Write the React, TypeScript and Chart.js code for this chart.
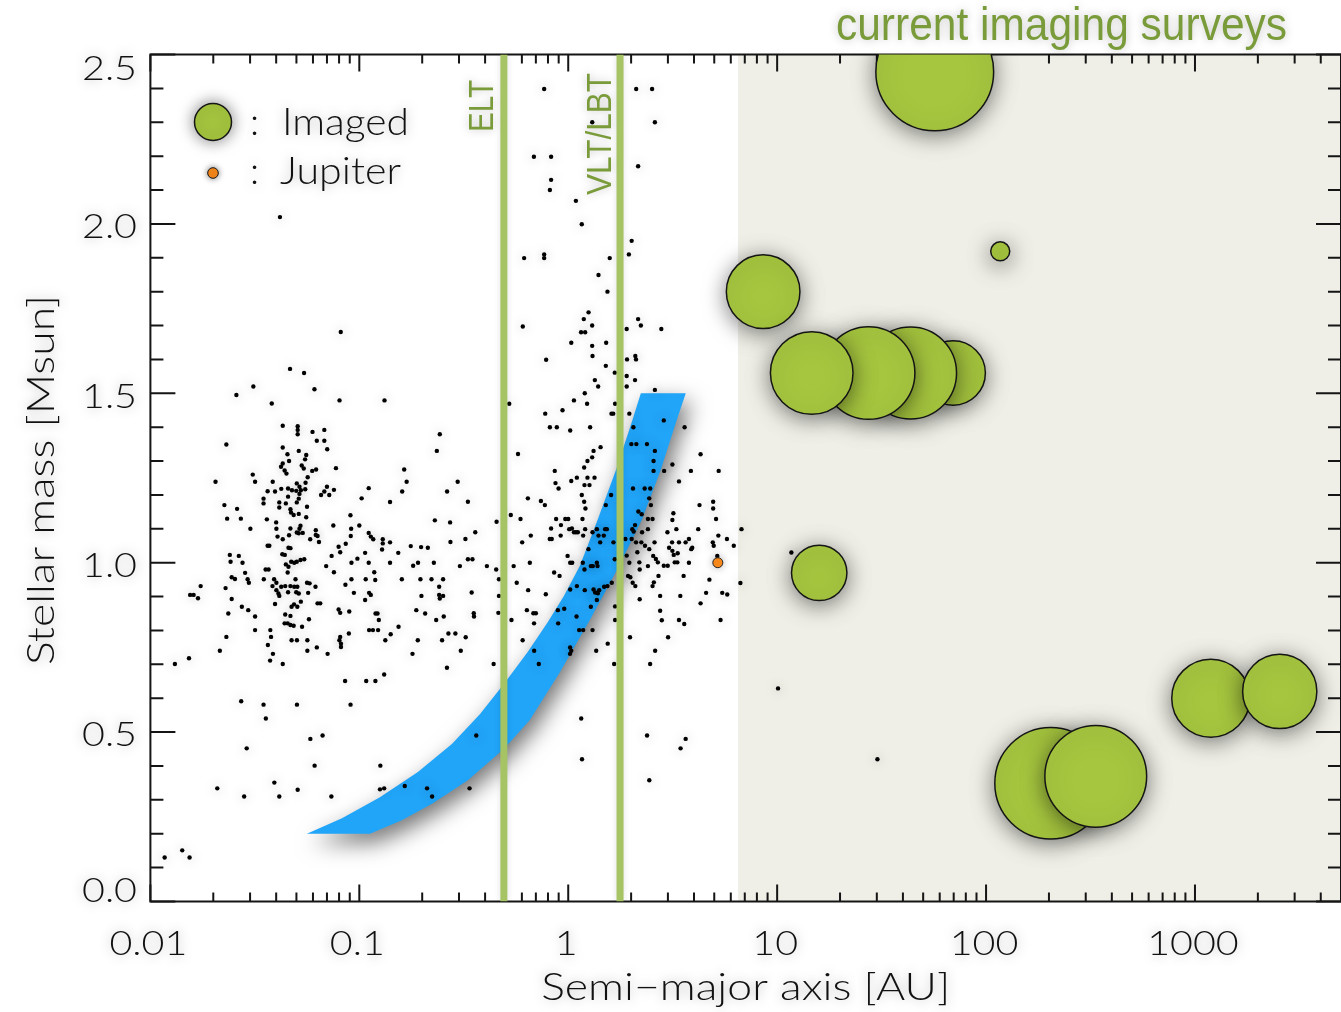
import React, { useEffect, useRef } from "react";
import { Chart, registerables } from "chart.js";

// ---------------- DATA ----------------
// Known planets: [semi-major axis (AU), stellar mass (Msun)]
const planetsHotCluster = [
  [0.0417,2.02],[0.0815,1.681],
  [0.0466,1.572],[0.0544,1.56],[0.0311,1.52],[0.0258,1.495],[0.061,1.512],[0.0381,1.47],[0.0804,1.479],[0.132,1.479],
  [0.043,1.404],[0.0507,1.403],[0.0507,1.392],[0.0507,1.379],[0.0597,1.386],[0.068,1.392],[0.0626,1.36],[0.068,1.36],[0.0702,1.335],[0.043,1.34],
  [0.0513,1.33],[0.0453,1.32],[0.0557,1.318],[0.055,1.305],[0.043,1.293],[0.0461,1.3],[0.0422,1.283],[0.0439,1.272],[0.053,1.287],[0.0542,1.278],
  [0.0448,1.263],[0.0621,1.275],[0.0595,1.271],[0.0773,1.279],[0.0231,1.349],[0.2428,1.379],[0.235,1.33],[0.164,1.275],[0.1685,1.239],[0.1604,1.21],
  [0.0205,1.239],[0.0309,1.26],[0.0317,1.239],[0.0566,1.252],[0.0553,1.236],[0.0502,1.234],[0.0517,1.224],[0.0385,1.239],[0.0364,1.211],[0.0395,1.21],
  [0.0423,1.218],[0.0456,1.219],[0.0476,1.214],[0.0499,1.212],[0.0525,1.214],[0.0551,1.217],[0.0517,1.203],[0.0513,1.189],[0.0456,1.195],[0.0348,1.189],
  [0.0348,1.175],[0.0414,1.178],[0.0445,1.175],[0.0502,1.178],[0.0562,1.165],[0.0414,1.163],[0.0468,1.158],[0.0471,1.148],[0.0485,1.141],[0.0513,1.144],
  [0.0557,1.134],[0.07,1.224],[0.068,1.21],[0.0656,1.2],[0.0718,1.2],[0.0756,1.215],[0.1109,1.22],[0.1026,1.19],[0.1403,1.179],[0.2631,1.21],
  [0.2957,1.239],[0.0226,1.17],[0.026,1.159],[0.0233,1.13],[0.0271,1.13],[0.0361,1.128],[0.04,1.119],[0.0401,1.1],[0.0301,1.1],[0.0406,1.077],
  [0.0461,1.081],[0.0502,1.089],[0.0523,1.109],[0.0513,1.087],[0.0468,1.101],[0.0517,1.1],[0.0536,1.088],[0.0619,1.096],[0.0619,1.082],[0.0582,1.069],
  [0.0641,1.061],[0.0631,1.079],[0.0907,1.14],[0.1,1.11],[0.0914,1.1],[0.0751,1.11],[0.091,1.079],[0.1109,1.088],[0.1135,1.077],[0.1166,1.069],
  [0.1295,1.069],[0.1295,1.057],[0.1403,1.06],[0.1285,1.039],[0.1536,1.029],[0.1763,1.049],[0.1976,1.046],[0.2128,1.044],[0.2299,1.125],[0.272,1.119],
  [0.273,1.061],[0.2274,1.0],[0.191,1.0],[0.181,0.991],[0.1403,1.0],[0.1109,1.0],[0.1066,1.029],[0.0917,1.0],[0.0979,1.012],[0.1179,0.972],
  [0.0694,0.99],[0.0756,0.972],[0.0796,1.047],[0.081,1.031],[0.0861,1.056],[0.0737,1.02],[0.043,1.069],[0.0458,1.044],[0.0468,1.043],[0.0428,1.025],
  [0.044,1.023],[0.0545,1.01],[0.0523,1.008],[0.0472,1.003],[0.0488,1.0],[0.0502,1.003],[0.0458,0.988],[0.0454,0.971],[0.0445,0.995],[0.0364,1.05],
  [0.0371,1.05],[0.0356,0.98],[0.0368,0.98],[0.024,1.023],[0.0265,1.02],[0.0242,1.003],[0.0276,1.0],[0.0284,0.97],[0.0245,0.957],[0.0254,0.952],
  [0.0292,0.951],[0.0296,0.941],[0.0349,0.951],[0.0391,0.951],[0.0401,0.941],[0.0384,0.931],[0.0401,0.919],[0.041,0.909],[0.0414,0.902],[0.0423,0.929],
  [0.0442,0.931],[0.0468,0.931],[0.0488,0.929],[0.0505,0.929],[0.0499,0.913],[0.0513,0.909],[0.0456,0.913],[0.0495,0.951],[0.0562,0.941],[0.0617,0.929],
  [0.0569,0.911],[0.0525,0.885],[0.0487,0.877],[0.0474,0.87],[0.0395,0.878],[0.0229,0.925],[0.0174,0.931],[0.0155,0.905],[0.0161,0.905],[0.0169,0.895],
  [0.0245,0.893],[0.0236,0.85],[0.0274,0.87],[0.0294,0.86],[0.0317,0.841],[0.0442,0.847],[0.0468,0.843],[0.0505,0.87],[0.0439,0.821],[0.0454,0.821],
  [0.0468,0.816],[0.0485,0.814],[0.0532,0.811],[0.0574,0.833],[0.0631,0.88],[0.065,0.88],[0.0858,0.935],[0.0942,0.911],[0.0917,0.951],[0.1073,0.951],
  [0.1114,0.911],[0.1135,0.905],[0.1066,0.89],[0.1192,0.949],[0.0796,0.862],[0.081,0.852],[0.0895,0.856],[0.1196,0.85],[0.1222,0.85],[0.124,0.831],
  [0.1114,0.801],[0.1162,0.801],[0.123,0.801],[0.1413,0.789],[0.1541,0.811],[0.1598,0.951],[0.1874,0.86],[0.2066,0.85],[0.1961,0.951],[0.2216,0.951],
  [0.2518,0.951],[0.2411,0.929],[0.2411,0.905],[0.2518,0.902],[0.2428,0.894],[0.1983,0.902],[0.2536,0.841],[0.2333,0.831],[0.267,0.791],[0.2883,0.791],
  [0.0578,0.939],[0.0891,0.791],[0.081,0.781],[0.0375,0.801],[0.0317,0.801],[0.0378,0.781],[0.0231,0.781],
];
const planetsLowMass = [
  [0.0474,0.771],[0.0503,0.771],[0.0564,0.771],[0.0803,0.771],[0.0817,0.761],[0.0817,0.751],[0.1332,0.771],[0.1905,0.771],[0.249,0.771],[0.605,0.771],
  [1.545,0.761],[0.0215,0.74],[0.0365,0.757],[0.0386,0.731],[0.0374,0.711],[0.043,0.701],[0.0564,0.74],[0.0626,0.75],[0.0705,0.731],[0.1797,0.731],
  [0.306,0.74],[0.687,0.74],[1.021,0.75],[1.034,0.74],[1.02,0.731],[1.361,0.74],[2.606,0.74],[0.0131,0.701],[0.0153,0.718],[0.4395,0.701],
  [0.723,0.701],[1.659,0.701],[2.466,0.701],[0.2627,0.69],[0.0855,0.651],[0.1079,0.651],[0.1194,0.651],[0.1315,0.67],[0.0272,0.591],[0.0348,0.581],
  [0.0503,0.581],[0.0908,0.581],[0.0357,0.54],[1.154,0.54],[0.0583,0.48],[0.0667,0.49],[0.363,0.49],[2.384,0.49],[3.648,0.48],[0.0289,0.452],
  [3.45,0.452],[0.0611,0.401],[0.1261,0.401],[1.164,0.42],[0.0392,0.351],[0.0209,0.334],[0.0281,0.31],[0.0414,0.31],[0.0507,0.33],[0.0735,0.31],
  [0.1256,0.331],[0.1315,0.334],[0.165,0.341],[0.211,0.334],[0.223,0.31],[0.337,0.334],[2.444,0.358],[0.0142,0.151],[0.0117,0.13],[0.0154,0.13],
];
const planetsWarm = [
  [2.005,1.35],[2.119,1.35],[2.381,1.35],[1.428,1.341],[1.322,1.33],[2.599,1.33],[0.575,1.321],[1.302,1.311],[1.236,1.3],[2.561,1.3],
  [4.3,1.32],[1.192,1.281],[0.862,1.271],[2.561,1.271],[2.878,1.271],[3.152,1.29],[3.866,1.271],[5.25,1.271],[1.034,1.241],[1.1,1.251],
  [1.236,1.251],[1.336,1.251],[0.869,1.235],[0.899,1.219],[1.196,1.229],[1.264,1.229],[2.042,1.219],[2.322,1.219],[2.469,1.219],[3.389,1.24],
  [1.161,1.2],[1.604,1.2],[0.641,1.19],[2.443,1.19],[0.331,1.18],[0.74,1.182],[0.773,1.17],[1.192,1.18],[1.209,1.16],[1.513,1.17],
  [2.487,1.17],[4.25,1.17],[4.94,1.18],[4.94,1.16],[2.166,1.151],[2.247,1.143],[3.187,1.146],[0.531,1.141],[0.591,1.129],[0.875,1.129],
  [0.968,1.129],[1.0,1.129],[1.17,1.129],[2.407,1.129],[2.533,1.129],[3.152,1.126],[5.1,1.129],[0.454,1.121],[0.923,1.111],[1.011,1.099],
  [1.065,1.09],[1.088,1.09],[0.828,1.101],[0.92,1.08],[1.041,1.101],[1.112,1.09],[1.205,1.099],[1.371,1.099],[1.502,1.099],[1.53,1.099],
  [2.027,1.099],[2.088,1.111],[2.057,1.092],[2.407,1.099],[2.256,1.09],[2.984,1.09],[3.293,1.099],[4.19,1.099],[6.75,1.099],[0.359,1.09],
  [0.322,1.07],[0.662,1.08],[0.816,1.07],[0.834,1.07],[1.179,1.08],[1.307,1.09],[1.396,1.08],[1.48,1.08],[1.646,1.06],[1.25,1.04],
  [1.422,1.06],[1.877,1.07],[2.012,1.07],[2.111,1.06],[2.239,1.06],[2.33,1.05],[2.443,1.04],[2.589,1.06],[3.141,1.06],[3.389,1.06],
  [3.782,1.07],[3.039,1.044],[3.152,1.035],[3.646,1.06],[3.88,1.04],[3.923,1.044],[4.92,1.06],[4.97,1.05],[5.23,1.08],[5.75,1.07],
  [6.2,1.05],[0.602,1.06],[3.341,1.028],[3.199,1.023],[2.142,1.031],[1.905,1.021],[2.551,1.02],[2.627,1.011],[2.685,1.001],[2.19,1.001],
  [2.867,0.991],[2.995,0.991],[3.234,1.001],[3.329,1.001],[3.782,1.0],[5.17,1.02],[0.348,1.01],[0.331,1.01],[0.303,0.99],[0.408,0.99],
  [0.452,0.98],[0.548,0.99],[0.655,1.0],[0.993,1.02],[1.022,1.0],[1.045,1.0],[1.174,1.0],[1.196,0.98],[1.283,0.99],[1.312,0.99],
  [1.371,1.0],[1.381,0.99],[1.67,1.01],[1.961,1.0],[1.933,0.961],[1.983,0.957],[2.035,0.941],[2.095,0.931],[2.407,0.99],[2.198,0.98],
  [2.57,0.942],[2.533,0.931],[2.704,0.961],[3.567,0.961],[4.74,0.95],[0.856,0.971],[0.909,0.961],[1.616,0.941],[1.541,0.931],[1.486,0.929],
  [1.407,0.919],[1.346,0.912],[1.386,0.91],[1.322,0.921],[1.371,0.89],[1.2,0.919],[1.1,0.931],[1.022,0.921],[0.567,0.941],[0.466,0.951],
  [0.466,0.902],[0.345,0.912],[0.643,0.919],[0.781,0.907],[2.198,0.892],[2.754,0.902],[3.439,0.902],[4.57,0.911],[5.46,0.911],[5.77,0.906],
  [4.3,0.88],[6.67,0.94],[5.36,0.831],[3.389,0.831],[3.593,0.819],[2.805,0.83],[2.754,0.858],[3.006,0.78],[1.976,0.78],[1.676,0.871],
  [1.676,0.831],[1.283,0.87],[1.096,0.841],[0.892,0.86],[0.957,0.864],[0.7,0.851],[0.681,0.851],[0.634,0.86],[0.535,0.831],[0.686,0.821],
  [0.895,0.821],[1.128,0.801],[1.179,0.801],[1.307,0.801],[0.463,0.852],[0.353,0.851],[0.354,0.841],[0.323,0.78],
];
const planetsMassive = [
  [0.767,2.398],[2.115,2.398],[2.52,2.398],[1.303,2.3],[2.599,2.3],[0.685,2.198],[0.828,2.198],[0.828,2.13],[0.817,2.1],[2.16,2.17],
  [1.088,2.068],[1.161,1.999],[2.012,1.95],[1.951,1.91],[0.615,1.899],[0.767,1.91],[0.767,1.899],[1.58,1.899],[1.396,1.849],[1.541,1.8],
  [1.251,1.739],[1.187,1.719],[1.302,1.7],[0.606,1.697],[2.16,1.719],[2.227,1.7],[2.79,1.69],[1.905,1.69],[1.152,1.68],[1.205,1.68],
  [1.034,1.649],[1.302,1.64],[1.519,1.649],[0.784,1.599],[1.307,1.61],[1.513,1.581],[1.912,1.6],[2.095,1.61],[2.111,1.6],[1.67,1.561],
  [1.905,1.551],[2.088,1.539],[1.341,1.539],[1.391,1.52],[1.905,1.52],[2.599,1.51],[1.2,1.5],[1.065,1.479],[0.522,1.469],[1.231,1.469],
  [1.676,1.469],[0.776,1.44],[0.939,1.45],[1.611,1.44],[1.642,1.44],[1.961,1.44],[0.817,1.4],[0.882,1.4],[1.022,1.39],[1.273,1.4],
  [2.05,1.4],[2.867,1.42],[3.606,1.4],
];
const planetsWide = [[11.7,1.03],[10.1,0.629],[30.2,0.42]];

// Directly imaged planets: semi-major axis, stellar mass, marker radius
const imagedA = [56.8, 116.9, 8.57, 69.6, 43.5, 27.4, 14.64, 15.9, 1190, 2545, 203.7, 335];
const imagedM = [2.449, 1.919, 1.8, 1.56, 1.56, 1.56, 1.56, 0.97, 0.6, 0.62, 0.349, 0.3695];
const imagedR = [58.9, 9.5, 36.8, 32.2, 46, 46.3, 41.3, 27.7, 39, 37.1, 55.8, 50.9];

// Jupiter
const jupiterA = [5.2];
const jupiterM = [1.0];

// Blue band (snow-line region): outer (upper-left) and inner (lower-right) edges
const bandOuterA = [0.0561,0.0826,0.1255,0.1907,0.2774,0.3776,0.4919,0.641,0.799,0.953,1.136,1.37,1.708,2.015,2.226];
const bandOuterM = [0.2,0.246,0.308,0.382,0.465,0.553,0.642,0.737,0.825,0.902,0.99,1.12,1.28,1.415,1.5];
const bandInnerA = [0.1124,0.1599,0.225,0.3308,0.4919,0.655,0.912,1.269,1.708,2.25,2.774,3.308,3.653];
const bandInnerM = [0.2,0.24,0.29,0.358,0.45,0.536,0.677,0.831,0.978,1.126,1.274,1.421,1.5];

// Instrument inner working limits
const instrumentNames = ["ELT", "VLT/LBT"];
const instrumentA = [0.492, 1.77];

// Region of current imaging surveys
const surveyA = [6.5, 5000];
const surveyM = [0, 2.5];

// Axes
const X_MIN = 0.01, X_MAX = 5000, Y_MIN = 0, Y_MAX = 2.5;
const xDecades = [0.01, 0.1, 1, 10, 100, 1000];
const xMinorSteps = [1, 2, 3, 4, 5, 6, 7, 8, 9];
const xTickLabels = ["0.01", "0.1", "1", "10", "100", "1000"];
const yTickValues = [0, 0.5, 1, 1.5, 2, 2.5];
const yTickLabels = ["0.0", "0.5", "1.0", "1.5", "2.0", "2.5"];
const yMinorStep = 0.1;

// ---------------- STYLE ----------------
const W = 1341, H = 1012;
const THIN = (s: number) => `300 ${s}px Lato, "Open Sans", "DejaVu Sans", sans-serif`;
const ARIAL = (s: number) => `${s}px "Liberation Sans", Arial, sans-serif`;
const GREEN_TEXT = "#7a9b3a";
const GREEN_LINE = "#a6c464";
const BUBBLE = "#a6c63f";

const elementShadow = {
  id: "elementShadow",
  beforeDatasetDraw(chart: any, args: any) {
    const ds = chart.data.datasets[args.index];
    const ctx = chart.ctx;
    ctx.save();
    const s = ds && ds.shadow;
    if (s) {
      ctx.shadowColor = s.color;
      ctx.shadowBlur = s.blur;
      ctx.shadowOffsetX = s.dx || 0;
      ctx.shadowOffsetY = s.dy || 0;
    }
  },
  afterDatasetDraw(chart: any) {
    chart.ctx.restore();
  },
};
Chart.register(elementShadow, ...registerables);

function fitText(ctx: CanvasRenderingContext2D, text: string, x: number, y: number, font: string,
  width: number | null, align: CanvasTextAlign, rot = 0, sxFixed?: number) {
  ctx.save();
  ctx.font = font;
  const w = ctx.measureText(text).width;
  const sx = sxFixed ?? (width ? width / w : 1);
  ctx.translate(x, y);
  if (rot) ctx.rotate(rot);
  ctx.scale(sx, 1);
  ctx.textAlign = align;
  ctx.textBaseline = "alphabetic";
  ctx.fillText(text, 0, 0);
  ctx.restore();
}

function drawFrame(chart: any) {
  const { ctx, chartArea: a, scales } = chart;
  const xs = scales.x, ys = scales.y;
  ctx.save();
  ctx.strokeStyle = "#151515";
  ctx.lineWidth = 2;
  ctx.beginPath();
  for (const d of xDecades) {
    for (const m of xMinorSteps) {
      const v = d * m;
      if (v < X_MIN || v > X_MAX) continue;
      const px = xs.getPixelForValue(v);
      const len = m === 1 ? 17 : 9;
      ctx.moveTo(px, a.bottom); ctx.lineTo(px, a.bottom - len);
      ctx.moveTo(px, a.top); ctx.lineTo(px, a.top + len);
    }
  }
  const n = Math.round((Y_MAX - Y_MIN) / yMinorStep);
  for (let i = 0; i <= n; i++) {
    const v = Y_MIN + i * yMinorStep;
    const py = ys.getPixelForValue(v);
    const len = i % 5 === 0 ? 25 : 13;
    ctx.moveTo(a.left, py); ctx.lineTo(a.left + len, py);
    ctx.moveTo(a.right, py); ctx.lineTo(a.right - len, py);
  }
  ctx.stroke();
  ctx.strokeRect(a.left, a.top, a.right - a.left, a.bottom - a.top);
  ctx.restore();
}

function drawTexts(chart: any) {
  const { ctx, chartArea: a, scales } = chart;
  const xs = scales.x, ys = scales.y;
  ctx.save();
  ctx.shadowColor = "rgba(0,0,0,0.35)";
  ctx.shadowBlur = 12;
  ctx.fillStyle = "#111";

  // tick labels
  ctx.font = THIN(34);
  const sx = 55 / ctx.measureText("2.5").width;
  yTickValues.forEach((v, i) => {
    const py = ys.getPixelForValue(v);
    const base = Math.min(a.bottom, Math.max(a.top + 25.5, py + 14.3));
    fitText(ctx, yTickLabels[i], 137, base, THIN(34), null, "right", 0, sx);
  });
  xDecades.forEach((v, i) => {
    const px = xs.getPixelForValue(v);
    fitText(ctx, xTickLabels[i], px - 2, 955, THIN(34), null, "center", 0, sx);
  });

  // axis titles
  fitText(ctx, "Semi\u2212major axis [AU]", (a.left + a.right) / 2, 1000, THIN(38), 409, "center");
  fitText(ctx, "Stellar mass [Msun]", 54, (a.top + a.bottom) / 2 + 2, THIN(38), 370, "center", -Math.PI / 2);

  // legend
  ctx.save();
  ctx.shadowColor = "rgba(0,0,0,0.5)";
  ctx.shadowBlur = 16;
  ctx.beginPath();
  ctx.arc(213, 122, 18.5, 0, Math.PI * 2);
  ctx.fillStyle = BUBBLE;
  ctx.fill();
  ctx.lineWidth = 1.5;
  ctx.strokeStyle = "#151515";
  ctx.stroke();
  ctx.shadowBlur = 6;
  ctx.beginPath();
  ctx.arc(213, 173, 5.3, 0, Math.PI * 2);
  ctx.fillStyle = "#ff8c1a";
  ctx.fill();
  ctx.lineWidth = 1;
  ctx.stroke();
  ctx.restore();
  ctx.fillStyle = "#111";
  fitText(ctx, ":", 250, 135, THIN(38), null, "left");
  fitText(ctx, "Imaged", 282, 135, THIN(38), 127, "left");
  fitText(ctx, ":", 250, 184, THIN(38), null, "left");
  fitText(ctx, "Jupiter", 280, 184, THIN(38), 121, "left");

  // green annotations
  ctx.fillStyle = GREEN_TEXT;
  ctx.shadowColor = "rgba(0,0,0,0.25)";
  ctx.shadowBlur = 10;
  fitText(ctx, "current imaging surveys", 836, 40, ARIAL(46), 451, "left");
  const labelPos = [
    { x: 493, y: 106, w: 52 },
    { x: 610.5, y: 134, w: 122 },
  ];
  instrumentNames.forEach((name, i) => {
    const p = labelPos[i];
    fitText(ctx, name, p.x, p.y, ARIAL(35), p.w, "center", -Math.PI / 2);
  });
  ctx.restore();
}

export default function App() {
  const ref = useRef<HTMLCanvasElement>(null);
  useEffect(() => {
    document.body.style.margin = "0";
    const planets = [...planetsHotCluster, ...planetsLowMass, ...planetsWarm, ...planetsMassive, ...planetsWide]
      .map(([x, y]) => ({ x, y }));
    const band = [
      ...bandOuterA.map((x, i) => ({ x, y: bandOuterM[i] })),
      ...bandInnerA.map((x, i) => ({ x, y: bandInnerM[i] })).reverse(),
    ];
    const survey = [
      { x: surveyA[0], y: surveyM[0] }, { x: surveyA[1], y: surveyM[0] },
      { x: surveyA[1], y: surveyM[1] }, { x: surveyA[0], y: surveyM[1] },
    ];
    const imaged = imagedA.map((x, i) => ({ x, y: imagedM[i], r: imagedR[i] }));
    const SHADE_INDEX = 0;
    const datasets: any[] = [
      {
        type: "line", label: "survey", data: survey, fill: "shape", backgroundColor: "#efefe7",
        borderColor: "rgba(0,0,0,0)", borderWidth: 0, pointRadius: 0, order: 10, clip: 0,
      },
      {
        type: "line", label: "band", data: band, fill: "shape", backgroundColor: "#21a5f9",
        borderColor: "rgba(0,0,0,0)", borderWidth: 0, pointRadius: 0, order: 9, clip: 0,
        shadow: { color: "rgba(0,0,0,0.55)", blur: 22, dx: 5, dy: 9 },
      },
      {
        type: "scatter", label: "planets", data: planets, pointRadius: 2.2, backgroundColor: "#000",
        borderWidth: 0, order: 8, clip: 0,
        shadow: { color: "rgba(0,0,0,0.36)", blur: 11 },
      },
      ...instrumentA.map((x, i) => ({
        type: "line", label: instrumentNames[i], data: [{ x, y: Y_MIN }, { x, y: Y_MAX }],
        borderColor: GREEN_LINE, borderWidth: 7, pointRadius: 0, fill: false, order: 7, clip: 0,
        shadow: { color: "rgba(0,0,0,0.12)", blur: 6 },
      })),
      {
        type: "scatter", label: "Jupiter", data: jupiterA.map((x, i) => ({ x, y: jupiterM[i] })),
        pointRadius: 5, backgroundColor: "#ff8c1a", borderColor: "#222", borderWidth: 1, order: 6, clip: 0,
        shadow: { color: "rgba(0,0,0,0.3)", blur: 8 },
      },
      {
        type: "bubble", label: "Imaged", data: imaged, backgroundColor: BUBBLE, borderColor: "#151515",
        borderWidth: 1.5, order: 5, clip: 0,
        shadow: { color: "rgba(0,0,0,0.5)", blur: 22, dx: 0, dy: 4 },
      },
    ];
    const decor = {
      id: "decor",
      afterDatasetDraw(chart: any, args: any) {
        if (args.index === SHADE_INDEX) drawFrame(chart);
      },
      afterDraw(chart: any) {
        drawTexts(chart);
      },
    };
    const chart = new Chart(ref.current as HTMLCanvasElement, {
      type: "scatter",
      data: { datasets },
      options: {
        animation: false,
        responsive: false,
        devicePixelRatio: 1,
        events: [],
        layout: { autoPadding: false, padding: { top: 54.5, right: 0, bottom: 0, left: 0 } },
        plugins: { legend: { display: false }, tooltip: { enabled: false }, title: { display: false } },
        scales: {
          x: {
            type: "logarithmic", min: X_MIN, max: X_MAX,
            ticks: { display: false }, grid: { display: false }, border: { display: false },
            afterFit: (s: any) => { s.height = H - 901.5; },
          },
          y: {
            type: "linear", min: Y_MIN, max: Y_MAX,
            ticks: { display: false }, grid: { display: false }, border: { display: false },
            afterFit: (s: any) => { s.width = 150.4; },
          },
        },
      },
      plugins: [decor],
    } as any);
    return () => chart.destroy();
  }, []);
  return (
    <div style={{ position: "absolute", left: 0, top: 0, width: W, height: H, background: "#fff" }}>
      <canvas ref={ref} width={W} height={H} style={{ display: "block", width: W, height: H }} />
    </div>
  );
}
